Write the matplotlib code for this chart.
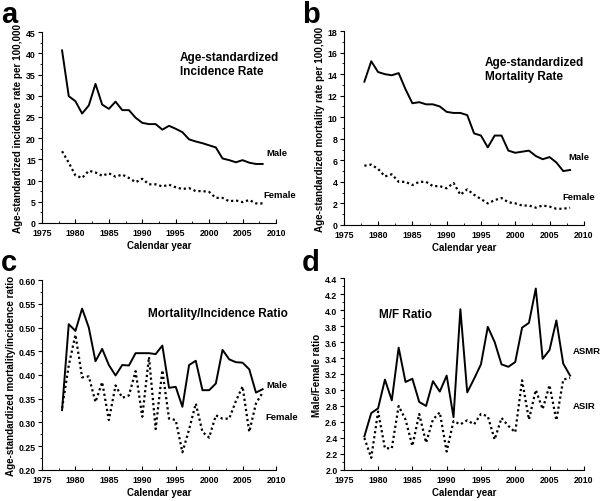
import matplotlib.pyplot as plt
import numpy as np
from matplotlib.ticker import MultipleLocator, AutoMinorLocator

plt.rcParams['font.family'] = ['Liberation Sans', 'DejaVu Sans']
plt.rcParams['font.weight'] = 'bold'

years = np.arange(1978, 2009)

# incidence per 100,000
inc_male = [40.7, 29.9, 28.7, 25.8, 27.7, 32.8, 27.9, 26.9, 28.6, 26.6, 26.6,
            24.8, 23.6, 23.3, 23.3, 22.0, 22.9, 22.2, 21.4, 19.7, 19.2, 18.8,
            18.3, 17.8, 15.2, 14.8, 14.3, 14.8, 14.2, 13.9, 13.9]
inc_female = [16.9, 14.2, 11.2, 10.6, 12.3, 11.9, 11.1, 11.7, 10.9, 11.4, 10.6,
              9.6, 10.4, 9.1, 9.1, 8.6, 9.0, 8.4, 8.0, 8.2, 7.5, 7.5,
              7.3, 5.9, 5.9, 5.1, 5.3, 4.9, 5.4, 4.6, 4.6]

# mortality per 100,000
mort_male = [13.3, 15.2, 14.2, 14.0, 13.9, 14.1, 12.6, 11.3, 11.4, 11.2, 11.2,
             11.0, 10.5, 10.4, 10.4, 10.2, 8.5, 8.3, 7.2, 8.3, 8.3, 6.9,
             6.7, 6.8, 6.9, 6.4, 6.1, 6.3, 5.8, 5.0, 5.1]
mort_female = [5.5, 5.6, 5.2, 4.5, 4.7, 4.0, 4.0, 3.7, 4.0, 4.0, 3.6,
               3.6, 3.4, 3.9, 2.8, 3.3, 2.8, 2.4, 2.0, 2.3, 2.5, 2.1,
               2.0, 1.8, 1.8, 1.6, 1.8, 1.7, 1.5, 1.5, 1.6]

# mortality/incidence ratio
mi_male = [0.326, 0.507, 0.493, 0.540, 0.500, 0.429, 0.455, 0.421, 0.399, 0.421, 0.420,
           0.446, 0.446, 0.446, 0.444, 0.462, 0.373, 0.375, 0.333, 0.421, 0.430, 0.368,
           0.368, 0.382, 0.453, 0.433, 0.427, 0.426, 0.412, 0.363, 0.370]
mi_female = [0.330, 0.420, 0.485, 0.395, 0.397, 0.343, 0.385, 0.305, 0.378, 0.352, 0.357,
             0.408, 0.312, 0.438, 0.286, 0.410, 0.308, 0.305, 0.237, 0.285, 0.340, 0.280,
             0.268, 0.315, 0.308, 0.308, 0.345, 0.376, 0.280, 0.340, 0.363]

# male/female ratio
mf_asmr = [2.42, 2.71, 2.77, 3.13, 2.87, 3.53, 3.10, 3.14, 2.85, 2.80, 3.11,
           2.98, 3.18, 2.66, 4.01, 2.97, 3.14, 3.32, 3.79, 3.60, 3.32, 3.29,
           3.35, 3.78, 3.84, 4.27, 3.39, 3.50, 3.87, 3.33, 3.18]
mf_asir = [2.40, 2.15, 2.73, 2.27, 2.27, 2.80, 2.63, 2.30, 2.70, 2.34, 2.63,
           2.72, 2.23, 2.61, 2.57, 2.62, 2.57, 2.70, 2.67, 2.38, 2.65, 2.55,
           2.47, 3.12, 2.63, 3.00, 2.76, 3.06, 2.62, 3.13, 3.15]


def setup(ax, ylim, ymajor, ylabel, fmt):
    ax.set_xlim(1975, 2010)
    ax.set_ylim(*ylim)
    ax.spines['top'].set_visible(False)
    ax.spines['right'].set_visible(False)
    ax.xaxis.set_major_locator(MultipleLocator(5))
    ax.xaxis.set_minor_locator(AutoMinorLocator(2))
    ax.yaxis.set_major_locator(MultipleLocator(ymajor))
    ax.yaxis.set_minor_locator(AutoMinorLocator(2))
    ax.yaxis.set_major_formatter(plt.FormatStrFormatter(fmt))
    ax.tick_params(axis='both', which='major', labelsize=6.3, length=3, width=0.8)
    ax.tick_params(axis='both', which='minor', length=1.5, width=0.6)
    ax.tick_params(axis='x', which='both', direction='in', pad=3.5)
    ax.tick_params(axis='y', which='both', direction='out', pad=1.5)
    ax.set_xlabel('Calendar year', fontsize=7, fontweight='bold', labelpad=2)
    ax.set_ylabel(ylabel, fontsize=7.1, fontweight='bold', labelpad=2)


fig = plt.figure(figsize=(6, 5.02), dpi=100)
ax_a = fig.add_axes([0.070, 0.554, 0.390, 0.380])
ax_b = fig.add_axes([0.573, 0.550, 0.400, 0.386])
ax_c = fig.add_axes([0.070, 0.062, 0.390, 0.378])
ax_d = fig.add_axes([0.573, 0.062, 0.400, 0.382])

solid = dict(color='black', lw=1.4, ls='-')
dotted = dict(color='black', lw=1.6, ls=(0, (1, 1.3)))
title_kw = dict(fontsize=8.5, fontweight='bold', va='center', ha='left', linespacing=1.25)
lab_kw = dict(fontsize=6.8, fontweight='bold', va='center', ha='left')

# a
ax_a.plot(years, inc_male, **solid)
ax_a.plot(years, inc_female, **dotted)
setup(ax_a, (0, 45), 5, 'Age-standardized incidence rate per 100,000', '%d')
ax_a.text(1995.6, 37.5, 'Age-standardized\nIncidence Rate', **title_kw)
ax_a.text(2008.5, 16.5, 'Male', **lab_kw)
ax_a.text(2008.1, 6.8, 'Female', **lab_kw)

# b
ax_b.plot(years, mort_male, **solid)
ax_b.plot(years, mort_female, **dotted)
setup(ax_b, (0, 18), 2, 'Age-standardized mortality rate per 100,000', '%d')
ax_b.text(1995.6, 14.5, 'Age-standardized\nMortality Rate', **title_kw)
ax_b.text(2007.7, 6.4, 'Male', **lab_kw)
ax_b.text(2006.9, 2.6, 'Female', **lab_kw)

# c
ax_c.plot(years, mi_male, **solid)
ax_c.plot(years, mi_female, **dotted)
setup(ax_c, (0.2, 0.6), 0.05, 'Age-standardized mortality/incidence ratio', '%.2f')
ax_c.text(1990.9, 0.530, 'Mortality/Incidence Ratio', **title_kw)
ax_c.text(2008.5, 0.379, 'Male', **lab_kw)
ax_c.text(2008.4, 0.312, 'Female', **lab_kw)

# d
ax_d.plot(years, mf_asmr, **solid)
ax_d.plot(years, mf_asir, **dotted)
setup(ax_d, (2.0, 4.4), 0.2, 'Male/Female ratio', '%.1f')
ax_d.text(1980.1, 3.95, 'M/F Ratio', **title_kw)
ax_d.text(2008.4, 3.49, 'ASMR', **lab_kw)
ax_d.text(2008.4, 2.80, 'ASIR', **lab_kw)

for letter, x, y in [('a', 0.002, 0.998), ('b', 0.503, 0.998),
                     ('c', 0.002, 0.503), ('d', 0.503, 0.503)]:
    fig.text(x, y, letter, fontsize=21, fontweight='bold', va='top', ha='left')

fig.savefig('out.png', dpi=100)
